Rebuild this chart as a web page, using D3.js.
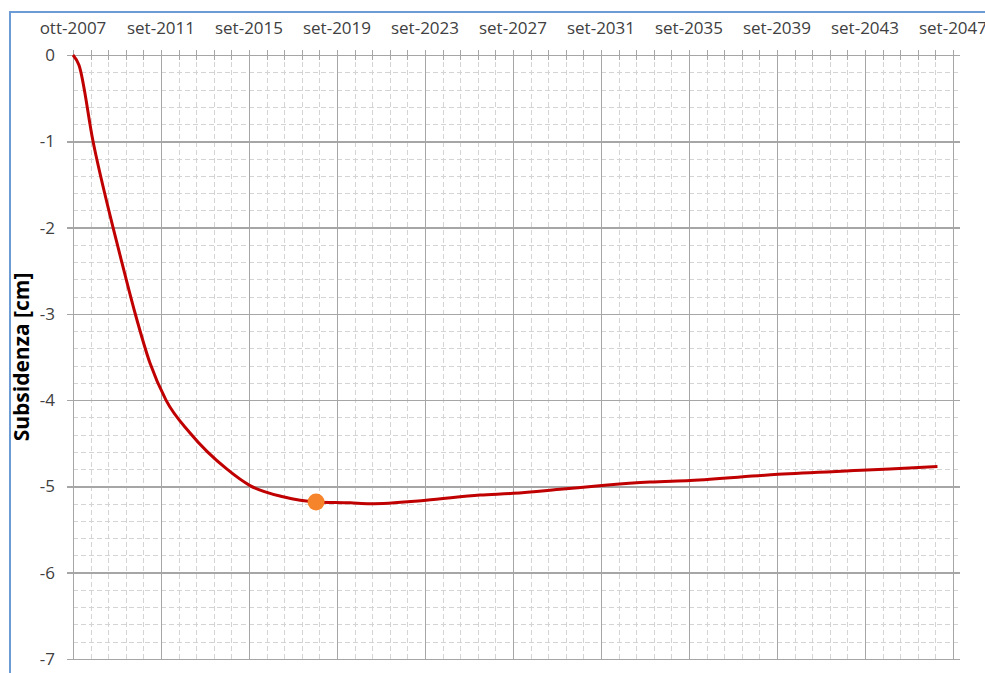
<!DOCTYPE html>
<html lang="it">
<head>
<meta charset="utf-8">
<title>Subsidenza</title>
<script src="https://cdn.jsdelivr.net/npm/d3@7"></script>
<style>
  body { margin: 0; background: #fff; }
  text { font-family: "Open Sans", sans-serif; fill: #404040; }
  .grid line { shape-rendering: crispEdges; }
  .grid path { display: none; }
</style>
</head>
<body>
<script>
  // data
  var dates = ["2007-10-01", "2008-01-09", "2008-08-28", "2009-07-27", "2009-12-22",
    "2010-07-26", "2011-03-31", "2011-12-22", "2013-01-24", "2014-09-29",
    "2015-10-16", "2017-04-16", "2018-10-16", "2020-05-01", "2021-03-28",
    "2023-10-13", "2026-03-27", "2027-09-26", "2030-01-03", "2031-10-12",
    "2033-12-16", "2035-10-11", "2039-10-10", "2043-10-26", "2047-01-06"];
  var values = [0, -0.12, -1.0, -2.0, -2.41,
    -2.99, -3.57, -4.0, -4.38, -4.80,
    -4.99, -5.12, -5.18, -5.19, -5.20,
    -5.16, -5.10, -5.08, -5.03, -4.99,
    -4.95, -4.93, -4.86, -4.81, -4.77];
  var markerDate = "2018-10-16";
  var markerValue = -5.18;
  var yTicks = [0, -1, -2, -3, -4, -5, -6, -7];
  var axisStart = "2007-10-01";
  var majorDays = 1460, minorDays = 292, nMajor = 10;

  var it = d3.timeFormatLocale({
    dateTime: "%A %e %B %Y, %X", date: "%d/%m/%Y", time: "%H:%M:%S",
    periods: ["AM", "PM"],
    days: ["domenica", "lunedì", "martedì", "mercoledì", "giovedì", "venerdì", "sabato"],
    shortDays: ["dom", "lun", "mar", "mer", "gio", "ven", "sab"],
    months: ["gennaio", "febbraio", "marzo", "aprile", "maggio", "giugno", "luglio", "agosto", "settembre", "ottobre", "novembre", "dicembre"],
    shortMonths: ["gen", "feb", "mar", "apr", "mag", "giu", "lug", "ago", "set", "ott", "nov", "dic"]
  });
  var fmt = it.utcFormat("%b-%Y");
  var parse = d3.utcParse("%Y-%m-%d");

  var W = 985, H = 673;
  var pL = 73, pR = 953, pT = 55, pB = 659, gridEnd = 960;

  var start = parse(axisStart);
  var end = d3.utcDay.offset(start, majorDays * nMajor);
  var majorX = d3.range(nMajor + 1).map(function(i) { return d3.utcDay.offset(start, i * majorDays); });
  var minorX = d3.range(nMajor * 5 + 1).map(function(i) { return d3.utcDay.offset(start, i * minorDays); });
  var minorY = d3.range(0, 36).map(function(i) { return -i * 0.2; });

  var x = d3.scaleUtc().domain([start, end]).range([pL, pR]);
  var y = d3.scaleLinear().domain([-7, 0]).range([pB, pT]);

  var svg = d3.select("body").append("svg")
    .attr("width", W).attr("height", H);

  // frame
  svg.append("path")
    .attr("d", "M10," + H + "V12H" + W)
    .attr("fill", "none").attr("stroke", "#6d9bd6").attr("stroke-width", 2);

  // minor grid
  svg.append("g").attr("class", "grid")
    .attr("transform", "translate(0," + pB + ")")
    .call(d3.axisBottom(x).tickValues(minorX).tickSize(-(pB - pT)).tickFormat(""))
    .selectAll("line").attr("stroke", "#d4d4d4").attr("stroke-dasharray", "5,3");
  svg.append("g").attr("class", "grid")
    .attr("transform", "translate(" + pL + ",0)")
    .call(d3.axisRight(y).tickValues(minorY).tickSize(gridEnd - pL).tickFormat(""))
    .selectAll("line").attr("stroke", "#d4d4d4").attr("stroke-dasharray", "5,3");

  // minor ticks crossing the top axis
  svg.append("g").attr("class", "grid")
    .attr("transform", "translate(0," + (pT + 5) + ")")
    .call(d3.axisTop(x).tickValues(minorX).tickSize(10).tickFormat(""))
    .selectAll("line").attr("stroke", "#a6a6a6");

  // major grid
  svg.append("g").attr("class", "grid")
    .attr("transform", "translate(0," + pB + ")")
    .call(d3.axisBottom(x).tickValues(majorX).tickSize(-(pB - pT + 5)).tickFormat(""))
    .selectAll("line").attr("stroke", "#a6a6a6").attr("stroke-width", 1.5);
  svg.append("g").attr("class", "grid")
    .attr("transform", "translate(" + (pL - 6) + ",0)")
    .call(d3.axisRight(y).tickValues(yTicks).tickSize(gridEnd - pL + 6).tickFormat(""))
    .selectAll("line").attr("stroke", "#a6a6a6").attr("stroke-width", 1.5);

  // labels
  svg.append("g").selectAll("text")
    .data(majorX).enter().append("text")
    .attr("x", function(d) { return x(d); })
    .attr("y", 34)
    .attr("text-anchor", "middle")
    .style("font-size", "17px")
    .text(function(d) { return fmt(d); });

  svg.append("g").selectAll("text")
    .data(yTicks).enter().append("text")
    .attr("x", 55)
    .attr("y", function(d) { return y(d) + 6; })
    .attr("text-anchor", "end")
    .style("font-size", "17px")
    .text(function(d) { return String(d); });

  svg.append("text")
    .attr("transform", "translate(29,357) rotate(-90)")
    .attr("text-anchor", "middle")
    .style("font-size", "21px")
    .style("font-weight", "bold")
    .style("fill", "#000")
    .text("Subsidenza [cm]");

  // series
  var data = dates.map(function(d, i) { return { date: parse(d), value: values[i] }; });
  var line = d3.line()
    .x(function(d) { return x(d.date); })
    .y(function(d) { return y(d.value); })
    .curve(d3.curveMonotoneX);

  svg.append("path")
    .datum(data)
    .attr("d", line)
    .attr("fill", "none")
    .attr("stroke", "#c00000")
    .attr("stroke-width", 3)
    .attr("stroke-linejoin", "round");

  svg.append("circle")
    .attr("cx", x(parse(markerDate)))
    .attr("cy", y(markerValue))
    .attr("r", 8.5)
    .attr("fill", "#f5842a");
</script>
</body>
</html>
